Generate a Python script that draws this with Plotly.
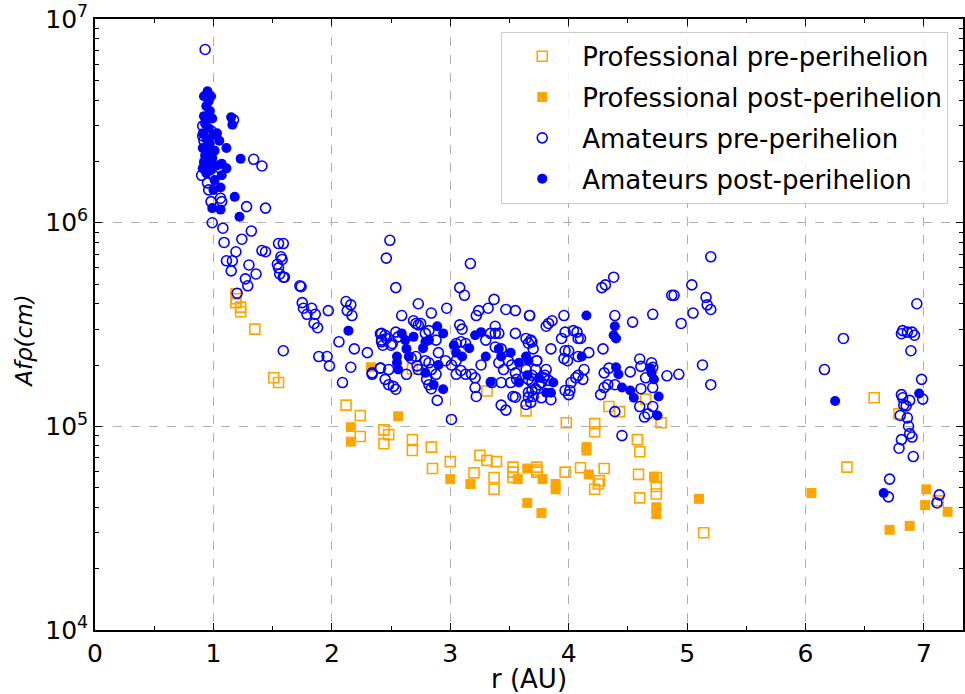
import plotly.graph_objects as go

# ---------------- data ----------------
pro_pre_r = [1.19, 1.19, 1.19, 1.23, 1.23, 1.35, 1.51, 1.55, 2.12, 2.24, 2.24, 2.44, 2.48, 2.44,
             2.68, 2.68, 2.84, 3.00, 2.85, 2.68, 3.25, 3.31, 3.39, 3.20, 3.37, 3.37, 3.31, 3.64,
             3.53, 3.53, 3.53, 3.73, 3.73, 3.73, 3.97, 3.98, 4.10, 4.22, 4.22, 4.30, 4.26, 4.25,
             4.22, 4.34, 4.43, 4.65, 4.78, 4.58, 4.60, 4.59, 4.60, 4.74, 4.74, 4.74, 5.14, 6.35,
             6.58, 6.79, 7.12]
pro_pre_a = [4.47e5, 4.23e5, 4.05e5, 3.85e5, 3.65e5, 3.0e5, 1.73e5, 1.64e5, 1.27e5, 1.13e5, 8.9e4,
             9.6e4, 9.1e4, 8.2e4, 8.6e4, 7.6e4, 7.9e4, 6.7e4, 6.2e4, 1.91e5, 7.2e4, 6.8e4, 6.7e4,
             5.9e4, 5.6e4, 4.9e4, 1.49e5, 1.19e5, 6.3e4, 5.95e4, 5.6e4, 6.3e4, 6.1e4, 5.95e4,
             5.95e4, 1.04e5, 6.25e4, 1.03e5, 9.4e4, 6.2e4, 5.4e4, 5.2e4, 4.9e4, 1.25e5, 1.18e5,
             1.36e5, 1.04e5, 8.6e4, 7.5e4, 5.8e4, 4.45e4, 5.6e4, 5.06e4, 4.65e4, 3.0e4, 6.3e4,
             1.38e5, 1.15e5, 4.3e4]

pro_post_r = [2.33, 2.56, 2.16, 2.16, 3.00, 3.17, 3.57, 3.65, 3.78, 3.89, 3.89, 3.65, 3.77, 4.15,
              4.15, 4.17, 4.72, 4.74, 4.74, 5.10, 6.05, 6.71, 6.88, 7.01, 7.02, 7.20]
pro_post_a = [1.95e5, 1.12e5, 9.9e4, 8.4e4, 5.5e4, 5.2e4, 5.5e4, 6.2e4, 5.5e4, 5.2e4, 4.9e4, 4.2e4,
              3.75e4, 7.9e4, 7.6e4, 5.8e4, 5.65e4, 4.0e4, 3.7e4, 4.4e4, 4.7e4, 3.1e4, 3.24e4,
              4.1e4, 4.9e4, 3.8e4]

am_pre_r = [0.93, 1.17, 1.34, 1.41, 0.98, 1.06, 1.07, 1.28, 1.44, 0.99,
            0.91, 0.94, 0.96, 0.90, 0.95, 0.93, 1.00, 0.96, 0.98, 0.92, 0.91, 0.96,
            1.08, 1.32, 1.09, 1.24, 1.19, 1.11, 1.16, 1.15, 1.30, 1.36, 1.27, 1.29, 1.41, 1.44,
            1.55, 1.59, 1.57, 1.58, 1.54, 1.55, 1.56, 1.59, 1.60, 1.73, 1.74, 1.20, 1.75, 1.76,
            1.79, 1.83, 1.86, 1.97, 1.85, 1.88, 1.59, 1.89, 1.96, 1.98, 2.06, 2.12, 2.16, 2.13,
            2.17, 2.19, 2.16, 2.09, 2.30, 2.49, 2.46, 2.54, 2.73, 2.59, 2.34, 2.41, 2.45, 2.48,
            2.52, 2.54, 2.63, 2.72, 2.41, 2.45, 2.42, 2.43, 2.51, 2.54, 2.56, 2.69, 2.71, 2.75,
            2.71, 3.17, 2.84, 2.97, 3.08, 3.12, 3.37, 3.32, 3.24, 3.22, 3.47, 3.55, 3.67, 3.81,
            3.08, 3.10, 3.38, 2.89, 3.01, 3.21, 3.22, 3.43, 3.47, 3.53, 3.55, 3.66, 3.69, 3.68,
            3.70, 3.73, 5.20, 5.04, 4.87, 4.89, 5.16, 5.17, 5.20, 5.05, 4.95, 4.71, 4.54, 4.39,
            4.38, 4.31, 4.28, 3.96, 3.86, 3.83, 4.04, 4.07, 4.08, 4.10, 3.97, 3.94, 3.69, 3.85,
            3.67, 4.29, 3.97, 4.00, 3.96, 3.99, 4.08, 4.17, 4.13, 4.08, 4.12, 4.06, 4.02, 4.01,
            3.97, 4.00, 4.27, 4.30, 4.33, 4.34, 4.30, 4.39, 4.52, 4.60, 4.61, 4.70, 4.71, 4.65,
            4.61, 4.71, 4.60, 4.71, 4.64, 4.67, 4.83, 4.93, 5.13, 5.20, 4.39, 4.45, 3.73, 3.69,
            3.79, 3.83, 3.75, 3.66, 3.70, 3.85, 3.77, 3.64, 3.68,
            6.94, 6.32, 6.16, 6.82, 6.81, 6.86, 6.90, 6.92, 6.89, 6.98, 6.99, 6.81, 6.82, 6.88,
            6.83, 6.85, 6.80, 6.86, 6.87, 6.88, 6.90, 6.81, 6.79, 6.91, 6.71, 6.70, 7.13, 7.11,
            2.42, 2.46, 2.42, 2.50, 2.41, 2.34, 2.48, 2.67, 2.73, 2.79, 2.82, 2.88, 2.79, 2.82,
            2.84, 2.88, 2.80, 2.82, 2.84, 2.73, 2.90, 2.96, 3.01, 3.05, 3.09, 3.13, 3.05, 3.09,
            3.05, 3.13, 3.18, 3.21, 3.26, 3.30, 3.34, 3.38, 3.41, 3.38, 3.43, 3.41, 3.45, 3.49,
            3.52, 3.55, 3.56, 3.51, 3.35, 3.43, 3.64, 3.66, 3.69, 3.72, 3.77, 3.80, 3.81, 3.72,
            3.55, 3.64, 3.66]
am_pre_a = [7.1e6, 3.2e6, 2.05e6, 1.9e6, 1.27e6, 1.32e6, 1.27e6, 1.2e6, 1.18e6, 1.0e6,
            2.67e6, 2.26e6, 1.95e6, 1.71e6, 1.57e6, 1.91e6, 1.71e6, 3.34e6, 2.83e6, 2.53e6,
            2.99e6, 1.45e6,
            9.4e5, 9.1e5, 8.0e5, 8.3e5, 7.2e5, 6.5e5, 6.5e5, 5.8e5, 6.2e5, 5.6e5, 5.3e5, 4.9e5,
            7.3e5, 7.2e5, 7.9e5, 7.9e5, 6.8e5, 6.6e5, 6.25e5, 6.0e5, 5.6e5, 5.4e5, 5.4e5, 4.9e5,
            4.85e5, 4.5e5, 4.05e5, 3.8e5, 3.55e5, 3.8e5, 3.55e5, 3.7e5, 3.2e5, 3.05e5, 2.35e5,
            2.2e5, 2.2e5, 1.98e5, 2.6e5, 4.1e5, 3.95e5, 3.7e5, 3.5e5, 2.4e5, 1.95e5, 1.64e5,
            2.3e5, 8.2e5, 6.7e5, 4.8e5, 4.0e5, 3.5e5, 1.83e5, 1.93e5, 1.7e5, 1.6e5, 1.57e5,
            1.52e5, 1.8e5, 1.98e5, 2.85e5, 2.8e5, 2.65e5, 2.5e5, 2.55e5, 2.9e5, 2.75e5, 3.3e5,
            3.2e5, 3.2e5, 2.2e5, 6.3e5, 3.6e5, 3.8e5, 4.8e5, 4.4e5, 4.2e5, 3.8e5, 3.7e5, 3.5e5,
            3.75e5, 3.7e5, 3.5e5, 3.1e5, 3.15e5, 3.0e5, 3.1e5, 1.34e5, 1.08e5, 1.55e5, 1.4e5,
            1.27e5, 1.2e5, 1.4e5, 1.39e5, 1.39e5, 1.5e5, 2.65e5, 2.4e5, 2.1e5, 6.8e5, 4.95e5,
            4.4e5, 4.4e5, 4.3e5, 3.95e5, 3.75e5, 3.6e5, 3.2e5, 3.55e5, 3.25e5, 3.5e5, 5.4e5,
            4.95e5, 4.8e5, 3.5e5, 3.3e5, 3.2e5, 2.95e5, 2.9e5, 2.7e5, 2.7e5, 2.9e5, 2.7e5,
            2.6e5, 2.4e5, 3.5e5, 2.4e5, 2.35e5, 2.35e5, 2.15e5, 2.1e5, 2.2e5, 2.3e5, 1.9e5,
            1.78e5, 1.7e5, 1.73e5, 1.64e5, 1.5e5, 1.5e5, 1.43e5, 1.43e5, 1.55e5, 1.6e5, 1.93e5,
            1.83e5, 1.6e5, 1.85e5, 2.14e5, 1.97e5, 2.05e5, 1.95e5, 1.73e5, 1.53e5, 1.55e5,
            1.25e5, 1.25e5, 1.11e5, 1.15e5, 1.77e5, 1.8e5, 2.0e5, 1.6e5, 1.18e5, 9.0e4, 2.1e5,
            1.78e5, 1.73e5, 1.68e5, 1.6e5, 1.47e5, 1.4e5, 1.35e5, 1.38e5, 1.28e5, 1.31e5,
            4.0e5, 2.7e5, 1.9e5, 2.95e5, 2.85e5, 2.9e5, 2.9e5, 2.8e5, 2.35e5, 1.7e5, 1.36e5,
            1.43e5, 1.38e5, 1.34e5, 1.27e5, 1.26e5, 1.13e5, 1.1e5, 1.0e5, 9.2e4, 8.85e4, 8.6e4,
            7.8e4, 7.1e4, 5.5e4, 4.5e4, 4.6e4, 4.2e4,
            2.86e5, 2.7e5, 2.6e5, 2.5e5, 1.93e5, 1.8e5, 1.9e5, 2.16e5, 3.15e5, 2.86e5, 2.95e5,
            2.65e5, 2.1e5, 2.05e5, 1.9e5, 1.8e5, 1.7e5, 1.6e5, 1.53e5, 1.9e5, 2.3e5, 2.1e5,
            2.0e5, 2.55e5, 2.6e5, 2.55e5, 2.1e5, 1.88e5, 1.8e5, 1.8e5, 1.8e5, 1.73e5, 2.0e5,
            2.65e5, 2.86e5, 2.86e5, 2.86e5, 2.45e5, 2.4e5, 2.05e5, 1.9e5, 2.1e5, 2.0e5, 1.83e5,
            1.7e5, 1.64e5, 1.64e5, 1.64e5, 1.9e5, 1.7e5, 1.64e5, 1.53e5, 1.64e5, 1.78e5, 1.9e5,
            1.9e5, 2.86e5, 2.7e5, 2.56e5]

am_post_r = [0.95, 0.92, 0.98, 0.96, 0.94, 0.97, 0.92, 0.99, 0.93, 0.96, 0.91, 1.00, 0.94, 0.97,
             0.91, 0.96, 0.93, 0.99, 0.92, 0.96, 0.91, 0.98, 0.94, 1.03, 1.05, 1.11, 1.15, 1.16,
             1.23, 1.07, 1.11, 1.07, 1.06, 1.18, 0.99, 1.06, 1.22, 1.01, 1.03, 1.00, 1.01,
             2.14, 2.59, 2.69, 2.63, 2.55, 2.56, 2.55, 2.65, 2.62, 2.79, 2.89, 2.82, 2.79, 2.86,
             2.94, 2.90, 3.05, 3.10, 3.26, 3.21, 3.34, 3.30, 3.43, 3.51, 3.58, 3.64, 3.65, 3.58,
             4.15, 4.39, 4.38, 4.40, 4.11, 4.40, 4.42, 4.45, 4.52, 4.55, 4.69, 4.70, 4.72, 4.76,
             4.75, 3.85, 3.66, 6.25, 6.96, 6.66, 3.16, 3.03, 2.77, 2.94, 3.41, 3.75, 3.87, 3.81]
am_post_a = [4.43e6, 4.18e6, 4.18e6, 3.95e6, 3.74e6, 3.54e6, 3.34e6, 3.25e6, 3.07e6, 2.91e6,
             2.75e6, 2.7e6, 2.58e6, 2.45e6, 2.33e6, 2.23e6, 2.14e6, 2.08e6, 1.99e6, 1.91e6,
             1.85e6, 1.81e6, 1.75e6, 2.75e6, 2.53e6, 2.33e6, 3.3e6, 3.03e6, 2.06e6, 1.95e6,
             1.85e6, 1.71e6, 1.49e6, 1.34e6, 1.18e6, 1.16e6, 1.07e6, 1.62e6, 1.91e6, 1.45e6,
             2.26e6,
             2.95e5, 2.86e5, 2.75e5, 2.4e5, 2.2e5, 1.9e5, 2.05e5, 2.2e5, 2.65e5, 2.6e5, 3.1e5,
             2.65e5, 1.83e5, 1.6e5, 1.52e5, 2.0e5, 2.3e5, 2.2e5, 2.9e5, 2.8e5, 1.65e5, 2.2e5,
             2.2e5, 2.3e5, 2.05e5, 2.2e5, 1.78e5, 1.64e5, 3.5e5, 3.1e5, 2.8e5, 2.7e5, 2.2e5,
             1.95e5, 1.8e5, 1.55e5, 1.5e5, 1.38e5, 1.93e5, 1.83e5, 1.7e5, 1.4e5, 1.13e5, 1.46e5,
             2.1e5, 1.33e5, 1.45e5, 4.7e4, 2.42e5, 2.5e5, 2.42e5, 2.86e5, 2.4e5, 1.73e5, 1.64e5,
             1.46e5]

y_tick_vals = [1e4, 1e5, 1e6, 1e7]
y_tick_text = ["10<sup>4</sup>", "10<sup>5</sup>", "10<sup>6</sup>", "10<sup>7</sup>"]
y_minor_vals = [k * 10 ** e for e in (4, 5, 6) for k in range(2, 10)]

ORANGE = "#ffa500"
BLUE = "#0000ff"
FONT = "DejaVu Sans"

fig = go.Figure()
fig.add_trace(go.Scatter(x=pro_pre_r, y=pro_pre_a, mode="markers", name="Professional pre-perihelion",
                         legendgroup="a",
                         marker=dict(symbol="square-open", size=10, color=ORANGE, line=dict(width=1.6, color=ORANGE))))
fig.add_trace(go.Scatter(x=pro_post_r, y=pro_post_a, mode="markers", name="Professional post-perihelion",
                         legendgroup="b",
                         marker=dict(symbol="square", size=10, color=ORANGE, line=dict(width=0))))
fig.add_trace(go.Scatter(x=am_pre_r, y=am_pre_a, mode="markers", name="Amateurs pre-perihelion",
                         legendgroup="c",
                         marker=dict(symbol="circle-open", size=10, color=BLUE, line=dict(width=1.6, color=BLUE))))
fig.add_trace(go.Scatter(x=am_post_r, y=am_post_a, mode="markers", name="Amateurs post-perihelion",
                         legendgroup="d",
                         marker=dict(symbol="circle", size=10, color=BLUE, line=dict(width=0))))

axis_common = dict(
    showline=True, linecolor="black", linewidth=1.5, mirror="ticks",
    ticks="inside", ticklen=7, tickwidth=1.3, tickcolor="black",
    showgrid=True, gridcolor="#b0b0b0", gridwidth=1, griddash="dash",
    zeroline=False,
    tickfont=dict(family=FONT, size=25, color="black"),
)

fig.update_xaxes(
    range=[0, 7.33], dtick=1, tick0=0,
    minor=dict(ticks="inside", ticklen=4, tickcolor="black", dtick=0.5, showgrid=False),
    title=dict(text="r (AU)", font=dict(family=FONT, size=26, color="black"), standoff=4),
    **axis_common,
)
fig.update_yaxes(
    type="log", range=[3.999, 7.001], tickmode="array",
    tickvals=y_tick_vals, ticktext=y_tick_text,
    minor=dict(ticks="inside", ticklen=4, tickcolor="black", showgrid=False,
               tickmode="array", tickvals=y_minor_vals),
    **axis_common,
)

fig.add_annotation(
    text="<i>Afρ(cm)</i>", textangle=-90, showarrow=False,
    xref="paper", yref="paper", x=-0.082, y=0.473, xanchor="center", yanchor="middle",
    font=dict(family=FONT, size=23, color="black"),
)

fig.update_layout(
    width=965, height=694,
    margin=dict(l=95, r=0, t=19, b=64),
    plot_bgcolor="white", paper_bgcolor="white",
    font=dict(family=FONT, size=25, color="black"),
    legend=dict(
        x=0.468, y=0.979, xanchor="left", yanchor="top",
        bgcolor="rgba(255,255,255,0.85)", bordercolor="#cccccc", borderwidth=1,
        font=dict(family=FONT, size=26, color="black"),
        tracegroupgap=4, itemwidth=70,
    ),
    showlegend=True,
)

fig.write_html("out.html")
